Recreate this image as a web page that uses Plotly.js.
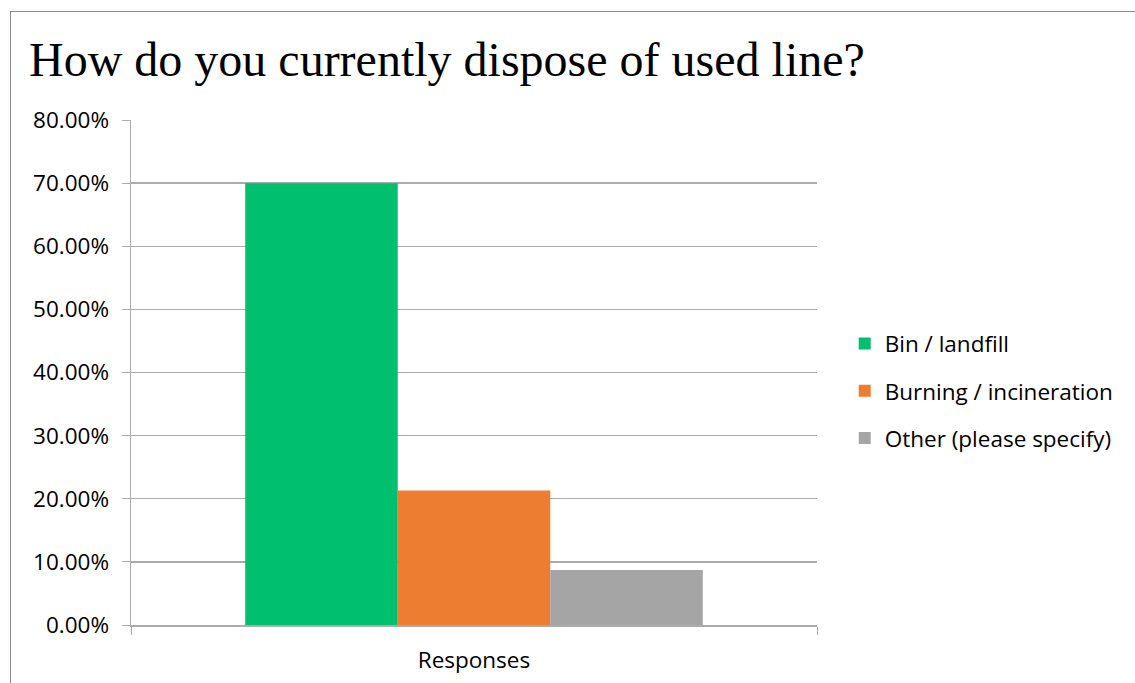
<!DOCTYPE html>
<html>
<head>
<meta charset="utf-8">
<script src="https://cdn.plot.ly/plotly-3.0.1.min.js"></script>
<style>
html,body{margin:0;padding:0;background:#fff;}
#wrap{position:relative;width:1135px;height:683px;overflow:hidden;}
#chart{position:absolute;left:0;top:0;width:1135px;height:683px;}
#frame{position:absolute;left:10px;top:11px;width:1200px;height:800px;border-left:1.5px solid #8c8c8c;border-top:1.5px solid #8c8c8c;pointer-events:none;}
</style>
</head>
<body>
<div id="wrap"><div id="chart"></div><div id="frame"></div></div>
<script>
const categories = ["Responses"];
const seriesNames = ["Bin / landfill", "Burning / incineration", "Other (please specify)"];
const seriesValues = [[0.700], [0.213], [0.087]];
const seriesColors = ["#00BF6F", "#ED7D31", "#A5A5A5"];
const yTicks = [0, 0.1, 0.2, 0.3, 0.4, 0.5, 0.6, 0.7, 0.8];

const font = "'Open Sans', Lato, sans-serif";
const traces = seriesNames.map((n, i) => ({
  type: "bar",
  name: n,
  x: categories,
  y: seriesValues[i],
  marker: {color: seriesColors[i], line: {width: 0}},
  legendgroup: "g" + i,
  hoverinfo: "y+name"
}));

const layout = {
  width: 1135, height: 683,
  margin: {l: 131, r: 318, t: 120, b: 58},
  paper_bgcolor: "#ffffff", plot_bgcolor: "#ffffff",
  title: {
    text: "How do you currently dispose of used line?",
    font: {family: "'Liberation Serif', 'Times New Roman', serif", size: 48, color: "#000"},
    xref: "container", x: 29/1135, xanchor: "left",
    yref: "container", y: 1 - 59/683, yanchor: "middle"
  },
  barmode: "group", bargap: 0.333, bargroupgap: 0,
  xaxis: {
    type: "category", tickson: "boundaries", ticks: "outside", ticklen: 8,
    tickcolor: "#ababab", showline: true, linecolor: "#ababab", linewidth: 1.5,
    showgrid: false, tickfont: {family: font, size: 22.5, color: "#000"}, ticklabelstandoff: 14
  },
  yaxis: {
    range: [0, 0.8], tickvals: yTicks, tickformat: ".2%",
    ticks: "outside", ticklen: 8, tickcolor: "#ababab",
    showline: true, linecolor: "#ababab", linewidth: 1.5,
    showgrid: true, gridcolor: "#ababab", gridwidth: 1.3, zeroline: false,
    tickfont: {family: font, size: 22.5, color: "#000"}, ticklabelstandoff: 8
  },
  legend: {
    x: 1.0404, xanchor: "left", y: 0.4634, yanchor: "middle",
    font: {family: font, size: 22.5, color: "#000"},
    traceorder: "grouped", tracegroupgap: 15, itemclick: false
  },
  showlegend: true
};
Plotly.newPlot("chart", traces, layout, {displayModeBar: false, staticPlot: true});
</script>
</body>
</html>
